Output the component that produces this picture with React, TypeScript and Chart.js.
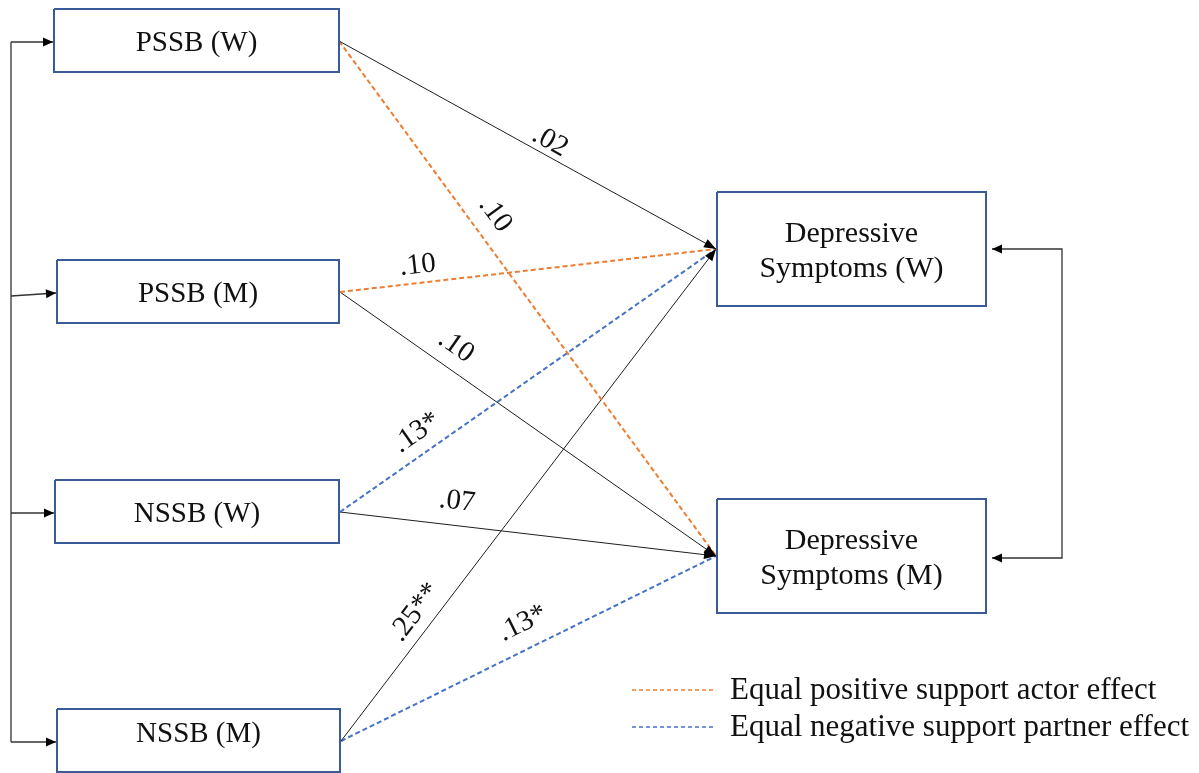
import React, { useEffect, useRef } from 'react';
import { Chart, registerables } from 'chart.js';

Chart.register(...registerables);

// ---------- data ----------
const predictorLabels = ['PSSB (W)', 'PSSB (M)', 'NSSB (W)', 'NSSB (M)'];
const outcomeLabels = [
  ['Depressive', 'Symptoms (W)'],
  ['Depressive', 'Symptoms (M)'],
];
const pathFrom = [0, 0, 1, 1, 2, 2, 3, 3];
const pathTo = [0, 1, 0, 1, 0, 1, 0, 1];
const pathCoefficients = ['.02', '.10', '.10', '.10', '.13*', '.07', '.25**', '.13*'];
const pathEffect = ['none', 'actor', 'actor', 'none', 'partner', 'none', 'none', 'partner'];
const legendLabels = ['Equal positive support actor effect', 'Equal negative support partner effect'];
const legendEffect = ['actor', 'partner'];

// ---------- layout (value space of the hidden linear scales) ----------
const predictorBoxes = [
  { l: 54, r: 339, t: 9, b: 72, ty: 43 },
  { l: 57, r: 339, t: 260, b: 323, ty: 294 },
  { l: 55, r: 339, t: 480, b: 543, ty: 514 },
  { l: 57, r: 340, t: 709, b: 772, ty: 734.5 },
];
const predictorAnchors = [
  { x: 339, y: 41 },
  { x: 340, y: 292 },
  { x: 340, y: 512 },
  { x: 341, y: 741 },
];
const outcomeBoxes = [
  { l: 717, r: 986, t: 192, b: 306 },
  { l: 717, r: 986, t: 499, b: 613 },
];
const outcomeAnchors = [
  { x: 716, y: 249 },
  { x: 716, y: 556 },
];
const labelPlacement = [
  { t: 0.542, d: 14 },
  { t: 0.364, d: 23.5 },
  { t: 0.212, d: 17.5 },
  { t: 0.275, d: 22 },
  { t: 0.236, d: 21 },
  { t: 0.304, d: 24 },
  { t: 0.238, d: 19 },
  { t: 0.514, d: 25 },
];
const leftBracket = { x: 11, arrowsFromY: [42, 296, 513, 742], arrowsToY: [42, 293, 513, 742] };
const rightBracket = { x: 1062, tipX: 992, ys: [249, 558] };
const legendPos = { x1: 632, x2: 716, textX: 730, ys: [690, 727] };

const COLORS: Record<string, string> = {
  actor: '#ED7D31',
  partner: '#4472C4',
  none: '#1e1e1e',
};
const BOX_COLOR = '#3B5B98';
const FONT = '"Liberation Serif", "DejaVu Serif", serif';

function buildDatasets() {
  const ds: any[] = [];
  const boxDs = (b: any) => ({
    data: [
      { x: b.l, y: b.t },
      { x: b.r, y: b.t },
      { x: b.r, y: b.b },
      { x: b.l, y: b.b },
      { x: b.l, y: b.t },
    ],
    showLine: true,
    borderColor: BOX_COLOR,
    borderWidth: 2,
    borderJoinStyle: 'miter',
    pointRadius: 0,
    fill: false,
  });
  predictorBoxes.forEach((b) => ds.push(boxDs(b)));
  outcomeBoxes.forEach((b) => ds.push(boxDs(b)));

  // left bracket
  const lb = leftBracket;
  ds.push({
    data: [
      { x: lb.x, y: lb.arrowsFromY[0] },
      { x: lb.x, y: lb.arrowsFromY[lb.arrowsFromY.length - 1] },
    ],
    showLine: true,
    borderColor: '#333',
    borderWidth: 1.3,
    pointRadius: 0,
  });
  lb.arrowsFromY.forEach((y0, i) => {
    ds.push({
      data: [
        { x: lb.x, y: y0 },
        { x: predictorBoxes[i].l - 1, y: lb.arrowsToY[i] },
      ],
      showLine: true,
      borderColor: '#333',
      borderWidth: 1.3,
      pointRadius: 0,
      arrowEnd: true,
      arrowColor: '#000',
    });
  });
  // right bracket (double headed)
  const rb = rightBracket;
  ds.push({
    data: [
      { x: rb.tipX, y: rb.ys[0] },
      { x: rb.x, y: rb.ys[0] },
      { x: rb.x, y: rb.ys[1] },
      { x: rb.tipX, y: rb.ys[1] },
    ],
    showLine: true,
    borderColor: '#333',
    borderWidth: 1.3,
    pointRadius: 0,
    arrowEnd: true,
    arrowStart: true,
    arrowColor: '#000',
  });

  // paths
  pathFrom.forEach((f, i) => {
    const eff = pathEffect[i];
    const a = predictorAnchors[f];
    const b = outcomeAnchors[pathTo[i]];
    ds.push({
      data: [
        { x: a.x, y: a.y },
        { x: b.x, y: b.y },
      ],
      showLine: true,
      borderColor: COLORS[eff],
      borderWidth: eff === 'none' ? 1 : 2,
      borderDash: eff === 'none' ? [] : [5, 3],
      pointRadius: 0,
      arrowEnd: eff === 'none',
      arrowColor: '#000',
      pathIndex: i,
    });
  });

  // legend samples
  legendEffect.forEach((eff, i) => {
    ds.push({
      data: [
        { x: legendPos.x1, y: legendPos.ys[i] },
        { x: legendPos.x2, y: legendPos.ys[i] },
      ],
      showLine: true,
      borderColor: COLORS[eff],
      borderWidth: 1.6,
      borderDash: [4, 3],
      pointRadius: 0,
    });
  });
  return ds;
}

function drawHead(ctx: CanvasRenderingContext2D, tip: any, from: any, color: string, len: number, wid: number) {
  const ang = Math.atan2(tip.y - from.y, tip.x - from.x);
  ctx.save();
  ctx.translate(tip.x, tip.y);
  ctx.rotate(ang);
  ctx.beginPath();
  ctx.moveTo(0, 0);
  ctx.lineTo(-len, -wid / 2);
  ctx.lineTo(-len, wid / 2);
  ctx.closePath();
  ctx.fillStyle = color;
  ctx.fill();
  ctx.restore();
}

const diagramPlugin = {
  id: 'diagram',
  afterDatasetsDraw(chart: any) {
    const { ctx, scales } = chart;
    const xs = scales.x;
    const ys = scales.y;
    const P = (p: any) => ({ x: xs.getPixelForValue(p.x), y: ys.getPixelForValue(p.y) });
    ctx.save();

    // arrowheads
    chart.data.datasets.forEach((d: any) => {
      const pts = d.data.map(P);
      if (d.arrowEnd) {
        const big = d.pathIndex !== undefined;
        drawHead(ctx, pts[pts.length - 1], pts[pts.length - 2], d.arrowColor, big ? 12 : 10, 9);
      }
      if (d.arrowStart) {
        drawHead(ctx, pts[0], pts[1], d.arrowColor, 10, 9);
      }
    });

    ctx.fillStyle = '#111';
    ctx.textBaseline = 'middle';
    ctx.textAlign = 'center';

    // predictor box text
    ctx.font = `29px ${FONT}`;
    predictorLabels.forEach((lab, i) => {
      const b = predictorBoxes[i];
      const c = P({ x: (b.l + b.r) / 2, y: b.ty });
      ctx.fillText(lab, c.x, c.y);
    });
    // outcome box text
    ctx.font = `30px ${FONT}`;
    outcomeLabels.forEach((lines, i) => {
      const b = outcomeBoxes[i];
      const cy = (b.t + b.b) / 2;
      const offs = [-14.5, 20];
      lines.forEach((ln, k) => {
        const c = P({ x: (b.l + b.r) / 2, y: cy + offs[k] });
        ctx.fillText(ln, c.x, c.y);
      });
    });

    // path coefficients
    ctx.font = `29px ${FONT}`;
    pathCoefficients.forEach((lab, i) => {
      const a = P(predictorAnchors[pathFrom[i]]);
      const b = P(outcomeAnchors[pathTo[i]]);
      const th = Math.atan2(b.y - a.y, b.x - a.x);
      const { t, d } = labelPlacement[i];
      const cx = a.x + (b.x - a.x) * t + Math.sin(th) * d;
      const cy = a.y + (b.y - a.y) * t - Math.cos(th) * d;
      ctx.save();
      ctx.translate(cx, cy);
      ctx.rotate(th);
      ctx.fillText(lab, 0, 0);
      ctx.restore();
    });

    // legend text
    ctx.font = `31px ${FONT}`;
    ctx.textAlign = 'left';
    legendLabels.forEach((lab, i) => {
      const c = P({ x: legendPos.textX, y: legendPos.ys[i] + 1 });
      ctx.fillText(lab, c.x, c.y);
    });
    ctx.restore();
  },
};

export default function App() {
  const ref = useRef<HTMLCanvasElement | null>(null);
  useEffect(() => {
    if (!ref.current) return;
    const chart = new Chart(ref.current, {
      type: 'scatter',
      data: { datasets: buildDatasets() },
      options: {
        responsive: false,
        maintainAspectRatio: false,
        devicePixelRatio: 1,
        animation: false,
        events: [],
        layout: { padding: 0 },
        plugins: { legend: { display: false }, tooltip: { enabled: false } },
        elements: { point: { radius: 0 }, line: { tension: 0 } },
        scales: {
          x: { type: 'linear', min: 0, max: 1199, display: false },
          y: { type: 'linear', min: 0, max: 773, reverse: true, display: false },
        },
      } as any,
      plugins: [diagramPlugin as any],
    });
    return () => chart.destroy();
  }, []);
  return (
    <div style={{ position: 'fixed', left: 0, top: 0, width: 1199, height: 773, background: '#fff' }}>
      <canvas ref={ref} width={1199} height={773} style={{ display: 'block' }} />
    </div>
  );
}
